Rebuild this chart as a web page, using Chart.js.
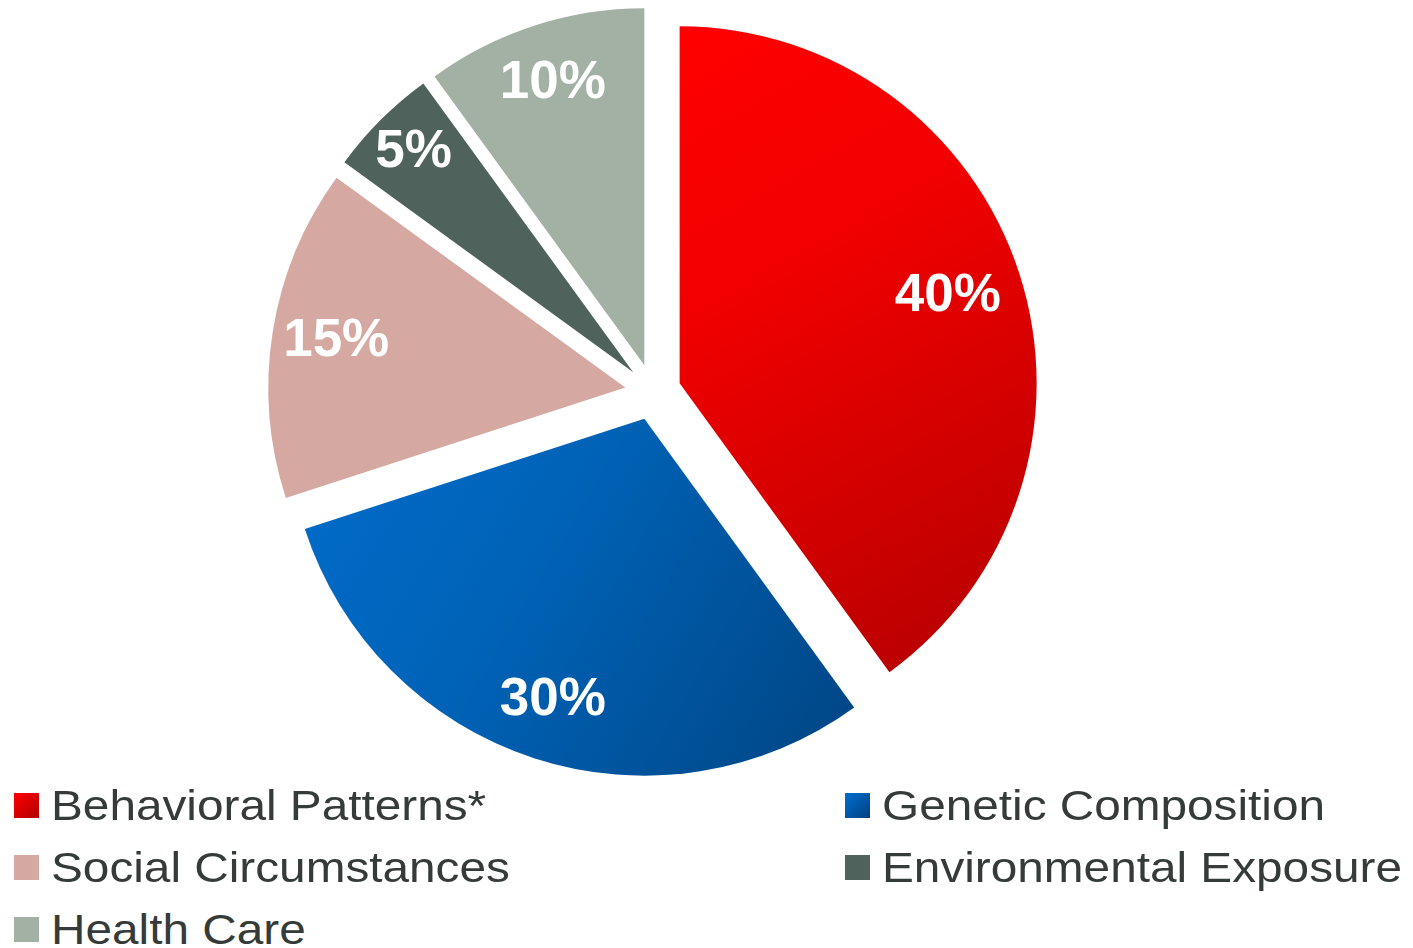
<!DOCTYPE html>
<html>
<head>
<meta charset="utf-8">
<script src="https://cdn.jsdelivr.net/npm/chart.js@4"></script>
<style>
    body { margin: 0; background: #fff; width: 1413px; height: 948px; overflow: hidden; position: relative; }
    #chartBox { position: absolute; left: 0; top: 0; width: 1306px; height: 784px; }
    .legend-item { position: absolute; display: flex; align-items: center; font-family: Arial, "Liberation Sans", sans-serif; font-size: 43px; color: #353b38; white-space: nowrap; }
    .legend-item .sw { width: 25px; height: 25px; margin-right: 12px; flex: none; }
    .legend-item .tx { display: inline-block; transform: scaleX(1.11); transform-origin: left center; }
</style>
</head>
<body>
<div id="chartBox"><canvas id="pieChart"></canvas></div>
<div id="legend"></div>
<script>
const categories = ['Behavioral Patterns*', 'Genetic Composition', 'Social Circumstances', 'Environmental Exposure', 'Health Care'];
const shares = [40, 30, 15, 5, 10];
const valueLabels = ['40%', '30%', '15%', '5%', '10%'];
const flatColors = ['#f00000', '#005cab', '#d5a9a1', '#4f625c', '#a3b1a5'];

// how far out (fraction of radius) each percentage sits
const labelDepth = [0.79, 0.83, 0.82, 0.87, 0.83];
// where each legend entry sits (two columns, filled row by row)
const legendSpots = [[14, 805], [845, 805], [14, 867], [845, 867], [14, 929]];

const EXPLODE = 28;
const RADIUS = 357;

function sliceFill(c) {
    const area = c.chart.chartArea;
    const i = c.dataIndex;
    if (!area || i > 1) return flatColors[i];
    const g = c.chart.ctx;
    const cx = (area.left + area.right) / 2;
    const cy = (area.top + area.bottom) / 2;
    let grad;
    if (i === 0) {
        grad = g.createLinearGradient(cx, cy - RADIUS, cx + RADIUS, cy + RADIUS * 0.75);
        grad.addColorStop(0, '#ff0000');
        grad.addColorStop(0.35, '#f20000');
        grad.addColorStop(1, '#b50000');
    } else {
        grad = g.createLinearGradient(cx - RADIUS * 0.95, cy + 30, cx + RADIUS * 0.6, cy + RADIUS);
        grad.addColorStop(0, '#006cca');
        grad.addColorStop(0.4, '#0062b6');
        grad.addColorStop(1, '#004482');
    }
    return grad;
}

// draws the arcs pulled out along their middle angle, then the percentages
const explodePlugin = {
    id: 'explode',
    beforeDatasetDraw(chart, args) {
        const ctx = chart.ctx;
        args.meta.data.forEach(arc => {
            const mid = (arc.startAngle + arc.endAngle) / 2;
            ctx.save();
            ctx.translate(Math.cos(mid) * EXPLODE, Math.sin(mid) * EXPLODE);
            arc.draw(ctx);
            ctx.restore();
        });
        return false;
    },
    afterDatasetsDraw(chart) {
        const ctx = chart.ctx;
        const meta = chart.getDatasetMeta(0);
        ctx.save();
        ctx.fillStyle = '#ffffff';
        ctx.font = 'bold 53px Arial, "Liberation Sans", sans-serif';
        ctx.textAlign = 'center';
        ctx.textBaseline = 'middle';
        meta.data.forEach((arc, i) => {
            const mid = (arc.startAngle + arc.endAngle) / 2;
            const d = EXPLODE + arc.outerRadius * labelDepth[i];
            ctx.fillText(valueLabels[i], arc.x + Math.cos(mid) * d, arc.y + Math.sin(mid) * d);
        });
        ctx.restore();
    }
};

new Chart(document.getElementById('pieChart').getContext('2d'), {
    type: 'pie',
    data: {
        labels: categories,
        datasets: [{
            data: shares,
            backgroundColor: sliceFill,
            borderWidth: 0,
            hoverOffset: 0,
            radius: RADIUS
        }]
    },
    options: {
        responsive: true,
        maintainAspectRatio: false,
        animation: false,
        layout: { padding: 0 },
        plugins: {
            legend: { display: false },
            tooltip: { enabled: false }
        }
    },
    plugins: [explodePlugin]
});

const legendEl = document.getElementById('legend');
categories.forEach((name, i) => {
    const item = document.createElement('div');
    item.className = 'legend-item';
    item.style.left = legendSpots[i][0] + 'px';
    item.style.top = (legendSpots[i][1] - 27) + 'px';
    item.style.height = '54px';
    const sw = document.createElement('span');
    sw.className = 'sw';
    sw.style.background = i === 0 ? 'linear-gradient(135deg, #ff0000, #b00000)'
        : i === 1 ? 'linear-gradient(135deg, #0070d0, #003f80)' : flatColors[i];
    const txt = document.createElement('span');
    txt.className = 'tx';
    txt.textContent = name;
    item.appendChild(sw);
    item.appendChild(txt);
    legendEl.appendChild(item);
});
</script>
</body>
</html>
